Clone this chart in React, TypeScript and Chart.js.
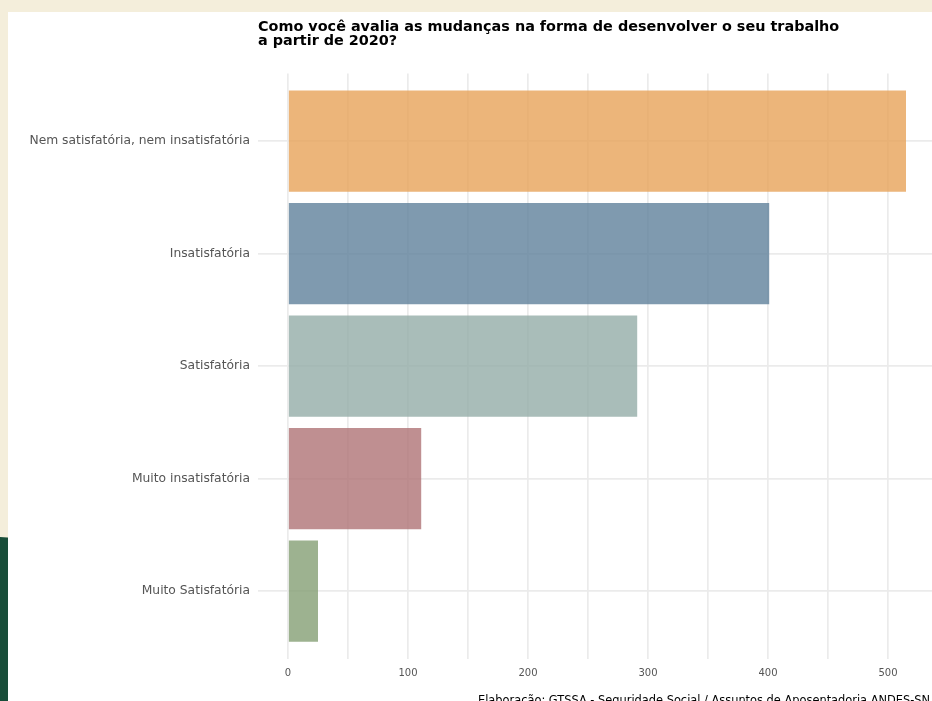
import React, { useEffect, useRef } from "react";
import { Chart, registerables } from "chart.js";

Chart.register(...registerables);

const categories = [
  "Nem satisfatória, nem insatisfatória",
  "Insatisfatória",
  "Satisfatória",
  "Muito insatisfatória",
  "Muito Satisfatória",
];
const counts = [515, 401, 291, 111, 25];
const barColors = [
  "rgba(231,162,89,0.8)",
  "rgba(95,129,155,0.8)",
  "rgba(148,172,167,0.8)",
  "rgba(175,115,118,0.8)",
  "rgba(133,159,116,0.8)",
];
const xTicks = [0, 50, 100, 150, 200, 250, 300, 350, 400, 450, 500];
const titleLines = [
  "Como você avalia as mudanças na forma de desenvolver o seu trabalho",
  "a partir de 2020?",
];
const caption =
  "Elaboração: GTSSA - Seguridade Social / Assuntos de Aposentadoria ANDES-SN";

const textPlugin = {
  id: "textPlugin",
  afterDraw(chart: any) {
    const ctx = chart.ctx;
    const left = chart.chartArea.left - 30;
    ctx.save();
    ctx.fillStyle = "#000";
    ctx.textAlign = "left";
    ctx.textBaseline = "alphabetic";
    ctx.font = "bold 14.4px 'DejaVu Sans'";
    ctx.fillText(titleLines[0], left, 30.5);
    ctx.fillText(titleLines[1], left, 45);
    ctx.font = "11.4px 'DejaVu Sans'";
    ctx.fillText(caption, 478, 704);
    ctx.restore();
  },
};

export default function App() {
  const ref = useRef<HTMLCanvasElement>(null);
  useEffect(() => {
    const canvas = ref.current!;
    const chart = new Chart(canvas, {
      type: "bar",
      data: {
        datasets: [
          {
            data: counts.map((v, i) => ({ x: v, y: i + 1 })),
            backgroundColor: barColors,
            borderWidth: 0,
            barPercentage: 0.9,
            categoryPercentage: 1,
          },
        ],
      },
      options: {
        indexAxis: "y",
        responsive: false,
        animation: false,
        layout: { padding: { top: 73.5, left: 0, right: 0, bottom: 0 } },
        plugins: { legend: { display: false }, tooltip: { enabled: false }, title: { display: false } },
        scales: {
          x: {
            type: "linear",
            min: 0,
            max: 644 / 1.2,
            offset: false,
            afterBuildTicks: (s: any) => {
              s.ticks = xTicks.map((v) => ({ value: v }));
            },
            afterFit: (s: any) => {
              s.height = 42.5;
            },
            grid: { color: "#ebebeb", lineWidth: 1.7, drawTicks: false, offset: false },
            border: { display: false },
            ticks: {
              padding: 9,
              color: "#555",
              font: { family: "'DejaVu Sans'", size: 10 },
              callback: (v: any) => (Number(v) % 100 === 0 ? String(v) : ""),
              maxRotation: 0,
              autoSkip: false,
            },
          },
          y: {
            type: "linear",
            min: 0.4,
            max: 5.6,
            reverse: true,
            offset: false,
            afterBuildTicks: (s: any) => {
              s.ticks = categories.map((_, i) => ({ value: i + 1 }));
            },
            afterFit: (s: any) => {
              s.width = 288;
            },
            grid: { color: "#ebebeb", lineWidth: 1.7, drawTicks: true, tickLength: 30, offset: false },
            border: { display: false },
            ticks: {
              padding: 8,
              color: "#555",
              font: { family: "'DejaVu Sans'", size: 12.3 },
              callback: (v: any) => categories[Math.round(Number(v)) - 1] ?? "",
              autoSkip: false,
            },
          },
        },
      },
      plugins: [textPlugin],
    } as any);
    return () => chart.destroy();
  }, []);

  return (
    <div style={{ position: "fixed", left: 0, top: 0, width: 932, height: 701, background: "#f4eedb", overflow: "hidden" }}>
      <div style={{ position: "absolute", left: 0, top: 537, width: 60, height: 300, background: "#184d39", borderTopRightRadius: 30, transform: "skewY(4deg)", transformOrigin: "left top" }} />
      <div style={{ position: "absolute", left: 8, top: 12, right: 0, bottom: 0, background: "#ffffff" }} />
      <canvas ref={ref} width={932} height={701} style={{ position: "absolute", left: 0, top: 0, width: 932, height: 701 }} />
    </div>
  );
}
